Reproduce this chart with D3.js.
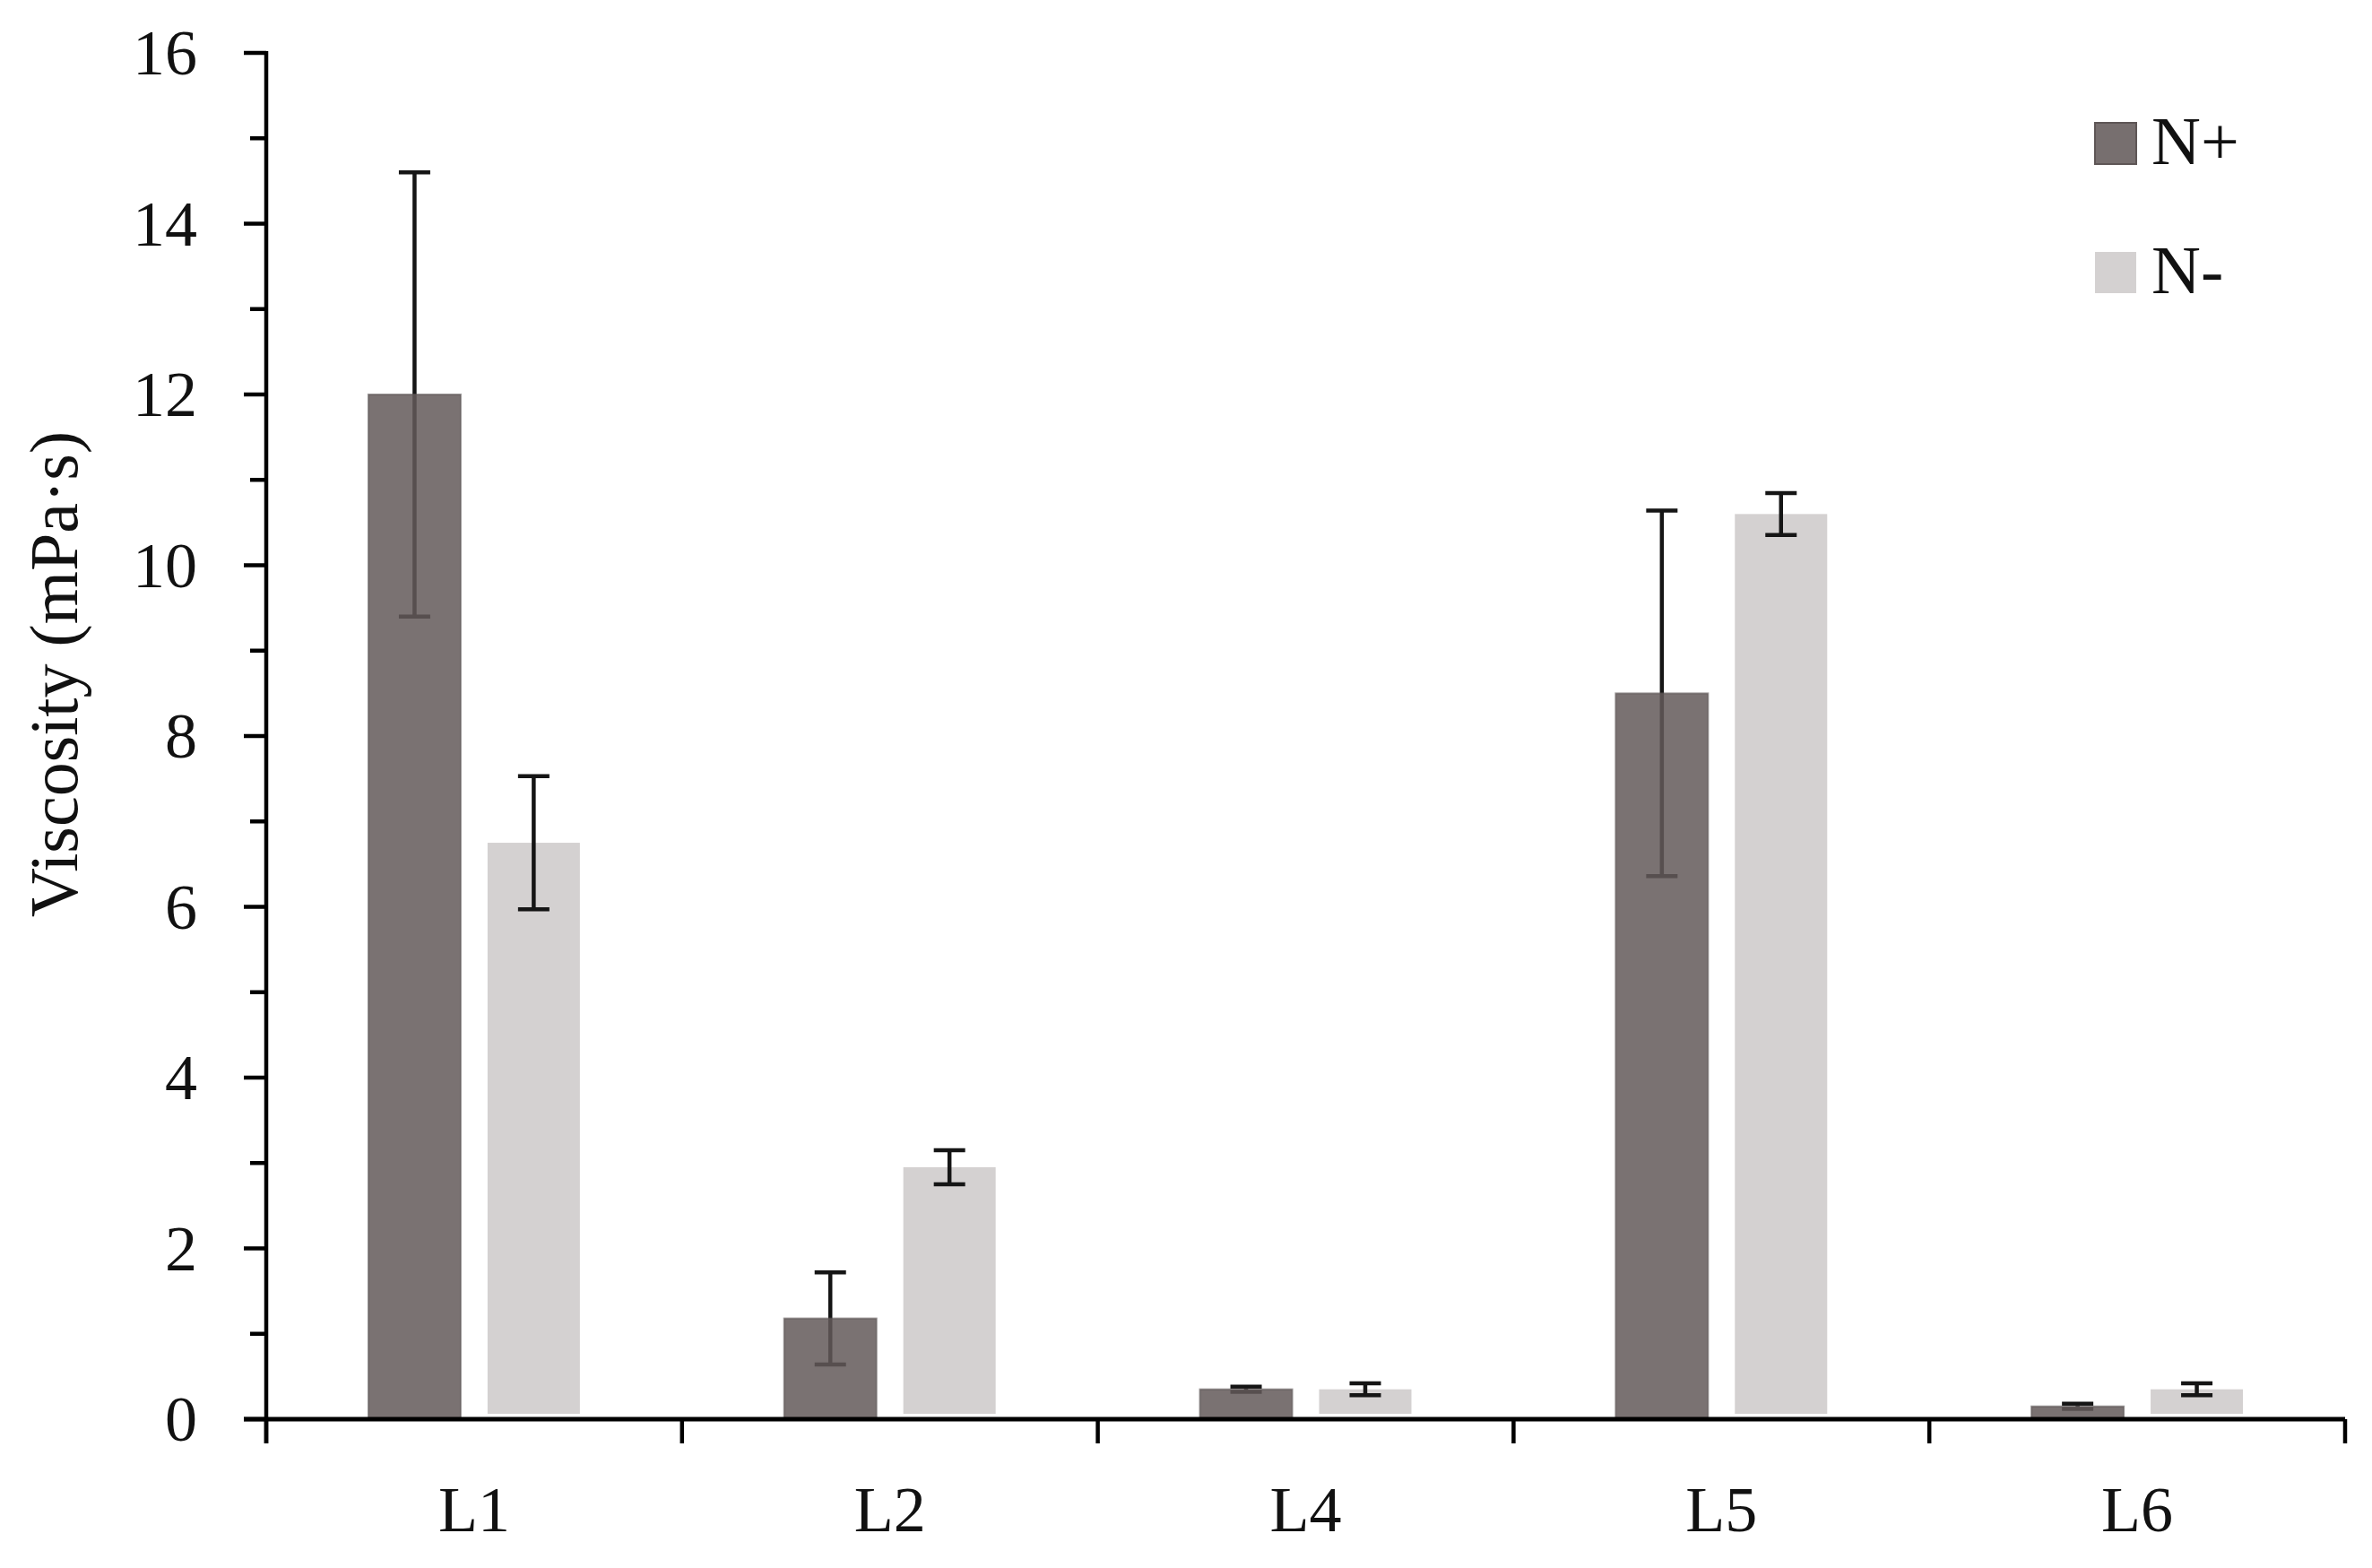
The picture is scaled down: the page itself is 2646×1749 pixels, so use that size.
<!DOCTYPE html>
<html>
<head>
<meta charset="utf-8">
<script src="https://cdn.jsdelivr.net/npm/d3@7"></script>
<style>
  html, body { margin: 0; padding: 0; background: #fff; }
  svg { display: block; }
  text { font-family: "Liberation Serif", "Times New Roman", serif; fill: #111; }
</style>
</head>
<body>
<script>
// ---- data ----
const categories = ["L1", "L2", "L4", "L5", "L6"];
const seriesNames = ["N+", "N-"];
const nPlusValues = [12.0, 1.18, 0.35, 8.5, 0.15];
const nPlusErrors = [2.6, 0.54, 0.03, 2.14, 0.03];
const nMinusValues = [6.75, 2.95, 0.35, 10.6, 0.35];
const nMinusErrors = [0.78, 0.2, 0.07, 0.245, 0.07];
const yTickValues = [0, 2, 4, 6, 8, 10, 12, 14, 16];
const yMinorTicks = d3.range(0, 17, 1);

// ---- layout ----
const W = 2646, H = 1749;
const mLeft = 297, mRight = 2616, mTop = 59, mBottom = 1583;

const svg = d3.select("body").append("svg").attr("width", W).attr("height", H);

const x = d3.scaleBand().domain(categories).range([mLeft, mRight]).paddingInner(0).paddingOuter(0);
const xSub = d3.scaleBand().domain(seriesNames).range([0, x.bandwidth()])
  .paddingInner(0.225).paddingOuter(0.857);
const y = d3.scaleLinear().domain([0, 16]).range([mBottom, mTop]);

const colors = { "N+": "rgb(99,89,89)", "N-": "#d4d1d1" };

const rows = [];
categories.forEach((c, i) => {
  rows.push({ cat: c, s: "N+", v: nPlusValues[i], e: nPlusErrors[i] });
  rows.push({ cat: c, s: "N-", v: nMinusValues[i], e: nMinusErrors[i] });
});

const capW = 35;
function drawErr(g, d) {
  const cx = x(d.cat) + xSub(d.s) + xSub.bandwidth() / 2;
  g.append("line").attr("x1", cx).attr("x2", cx).attr("y1", y(d.v + d.e)).attr("y2", y(d.v - d.e));
  g.append("line").attr("x1", cx - capW / 2).attr("x2", cx + capW / 2).attr("y1", y(d.v + d.e)).attr("y2", y(d.v + d.e));
  g.append("line").attr("x1", cx - capW / 2).attr("x2", cx + capW / 2).attr("y1", y(d.v - d.e)).attr("y2", y(d.v - d.e));
}

// error bars of dark bars first (dark bars are slightly translucent over them)
const eb = svg.append("g").attr("stroke", "#151515").attr("stroke-width", 4.5);
rows.filter(d => d.s === "N+").forEach(d => drawErr(eb, d));

// bars
svg.append("g").selectAll("rect").data(rows).join("rect")
  .attr("x", d => x(d.cat) + xSub(d.s))
  .attr("width", xSub.bandwidth())
  .attr("y", d => y(d.v))
  .attr("height", d => y(0) - y(d.v) - (d.s === "N-" ? 6 : 0))
  .attr("fill", d => colors[d.s])
  .attr("fill-opacity", d => d.s === "N+" ? 0.85 : 1)
  .attr("stroke", d => d.s === "N+" ? "#5e5656" : "none")
  .attr("stroke-opacity", 0.6)
  .attr("stroke-width", 2);

// error bars on the opaque light bars
const eb2 = svg.append("g").attr("stroke", "#151515").attr("stroke-width", 4.5);
rows.filter(d => d.s === "N-").forEach(d => drawErr(eb2, d));

// y axis
const yAxis = svg.append("g");
yAxis.append("line").attr("x1", mLeft).attr("x2", mLeft).attr("y1", mTop - 2).attr("y2", mBottom + 27)
  .attr("stroke", "#000").attr("stroke-width", 4.5);
yMinorTicks.forEach(t => {
  const major = t % 2 === 0;
  yAxis.append("line").attr("x1", mLeft - (major ? 25 : 18)).attr("x2", mLeft)
    .attr("y1", y(t)).attr("y2", y(t)).attr("stroke", "#000").attr("stroke-width", 4.5);
});
yAxis.selectAll("text.tick").data(yTickValues).join("text")
  .attr("class", "tick")
  .attr("x", mLeft - 77).attr("y", d => y(d))
  .attr("text-anchor", "end").attr("dominant-baseline", "central")
  .attr("font-size", 72)
  .text(d => d);

// x axis
const xAxis = svg.append("g");
xAxis.append("line").attr("x1", mLeft - 25).attr("x2", mRight).attr("y1", mBottom).attr("y2", mBottom)
  .attr("stroke", "#000").attr("stroke-width", 5);
const boundaries = categories.map(c => x(c)).concat([x(categories[categories.length - 1]) + x.bandwidth()]);
boundaries.forEach(bx => {
  xAxis.append("line").attr("x1", bx).attr("x2", bx).attr("y1", mBottom).attr("y2", mBottom + 27)
    .attr("stroke", "#000").attr("stroke-width", 4.5);
});
xAxis.selectAll("text").data(categories).join("text")
  .attr("x", d => x(d) + x.bandwidth() / 2)
  .attr("y", 1708)
  .attr("text-anchor", "middle")
  .attr("font-size", 72)
  .text(d => d);

// y title
svg.append("text")
  .attr("transform", "translate(60,752) rotate(-90)")
  .attr("text-anchor", "middle").attr("dominant-baseline", "central")
  .attr("font-size", 76)
  .text("Viscosity (mPa·s)");

// legend
const legend = svg.append("g");
const legendY = { "N+": 137, "N-": 281 };
seriesNames.forEach(s => {
  legend.append("rect").attr("x", 2337).attr("y", legendY[s]).attr("width", 46).attr("height", 46)
    .attr("fill", s === "N+" ? "#776f6f" : "#d4d1d1")
    .attr("stroke", s === "N+" ? "#5e5656" : "none").attr("stroke-width", 2);
  legend.append("text").attr("x", 2400).attr("y", legendY[s] + 46).attr("font-size", 76).text(s);
});
</script>
</body>
</html>
